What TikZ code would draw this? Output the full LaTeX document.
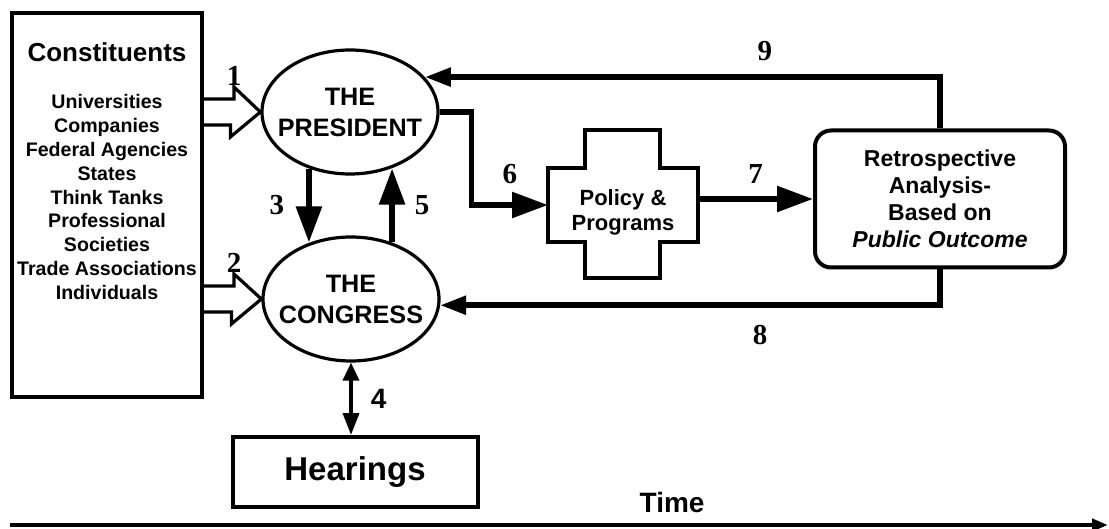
\documentclass[tikz,border=0pt]{standalone}
\usepackage{fontspec}
\setmainfont{Liberation Sans}
\newfontfamily\numfont{Liberation Serif}
\usetikzlibrary{positioning,shapes.geometric,arrows.meta,calc}

\begin{document}
\begin{tikzpicture}[x=0.5pt,y=-0.5pt,
      box/.style={draw,line width=2pt,inner sep=0pt},
      oval/.style={draw,ellipse,line width=1.6pt,minimum width=88pt,minimum height=62pt,inner sep=0pt},
      ovaltext/.style={align=center,font=\fontsize{12.6}{15.5}\selectfont\bfseries},
      bigarrow/.style={line width=2.8pt,-{Triangle[length=18pt,width=12.5pt]}},
      smallarrow/.style={line width=2.8pt,-{Triangle[length=13pt,width=9pt]}},
      openarrow/.style={line width=1.6pt,line join=miter},
      nlabel/.style={inner sep=0pt,font=\fontsize{14.5}{16}\numfont\bfseries},
    ]
    \useasboundingbox (0,0) rectangle (1109,529);
    % constituents
    \node[box,minimum width=95pt,minimum height=192pt] (const) at (107,205) {};
    \node[font=\fontsize{13}{15}\selectfont\bfseries] (consttitle) at (107,52) {Constituents};
    \node[align=center,font=\fontsize{9.8}{11.9}\selectfont\bfseries] (constlist) at (107,197)
        {Universities\\Companies\\Federal Agencies\\States\\Think Tanks\\Professional\\Societies\\Trade Associations\\Individuals};
    % president and congress
    \node[oval,label={[ovaltext]center:THE\\PRESIDENT}] (pres) at (350,112) {};
    \node[oval,label={[ovaltext]center:THE\\CONGRESS}] (cong) at (351,299) {};
    \node[box,minimum width=122.5pt,minimum height=35pt,font=\fontsize{16.5}{18}\selectfont\bfseries] (hear) at (355,472) {Hearings};
    % policy cross
    \node[minimum width=75pt,minimum height=37pt,outer sep=0pt,
        label={[align=center,yshift=-3.5pt,font=\fontsize{11}{12.5}\selectfont\bfseries]center:Policy \&\\Programs}] (policy) at (623,205) {};
    \draw[box] (policy.north west) -- ++(37,0) -- ++(0,-38) -- ++(75,0) -- ++(0,38) -- (policy.north east)
        -- (policy.south east) -- ++(-38,0) -- ++(0,36) -- ++(-75,0) -- ++(0,-36) -- (policy.south west) -- cycle;
    \node[box,rounded corners=8pt,minimum width=125pt,minimum height=68.5pt,align=center,
        font=\fontsize{11.5}{13.5}\selectfont\bfseries] (retro) at (940,199)
        {Retrospective\\Analysis-\\Based on\\\textit{Public Outcome}};
    % open arrows 1 and 2
    \draw[openarrow] (const.east |- pres.west) ++(0,-13) -- ++(30,0) -- ++(0,-12) node[nlabel,above=0pt]{1}
        -- (pres.west) -- ++(-30,25) -- ++(0,-12) -- ++(-30,0);
    \draw[openarrow] (const.east |- cong.west) ++(0,-13) -- ++(30,0) -- ++(0,-12) node[nlabel,above=0pt]{2}
        -- (cong.west) -- ++(-30,25) -- ++(0,-12) -- ++(-30,0);
    % between president and congress
    \draw[bigarrow] (pres.234) -- node[nlabel,left=11pt]{3} (pres.234 |- cong.126);
    \draw[bigarrow] (cong.54) -- node[nlabel,right=10pt]{5} (cong.54 |- pres.306);
    \draw[line width=1.8pt,{Triangle[length=9pt,width=8pt]}-{Triangle[length=11pt,width=8pt]}]
        (cong.south) -- node[right=9pt,inner sep=0pt,font=\fontsize{14}{16}\selectfont\bfseries]{4} (cong.south |- hear.north);
    % policy flow
    \draw[bigarrow] (pres.east) -- ++(32,0) |- node[nlabel,pos=0.75,above=9pt]{6} (policy.west);
    \draw[bigarrow] (policy.east |- retro.west) -- node[nlabel,above=6.5pt]{7} (retro.west);
    \draw[smallarrow] (retro.north) |- node[nlabel,pos=0.67,above=6.5pt]{9} (pres.25);
    \draw[smallarrow] (retro.south) |- node[nlabel,pos=0.68,below=8.5pt]{8} (cong.-4);
    % time axis
    \coordinate (tstart) at (10,525);
    \coordinate (tend) at (1108,525);
    \draw[line width=2pt,-{Triangle[length=8pt,width=6pt]}] (tstart) -- node[pos=0.603,above=5pt,inner sep=0pt,
        font=\fontsize{14}{16}\selectfont\bfseries]{Time} (tend);
\end{tikzpicture}
\end{document}
